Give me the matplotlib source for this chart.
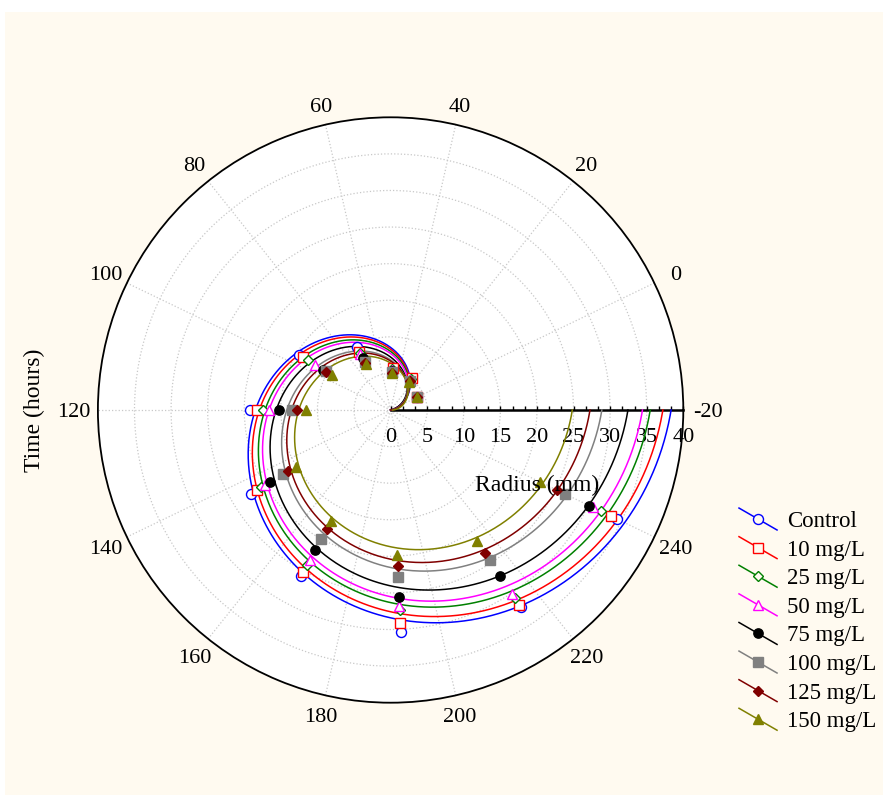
import numpy as np
import matplotlib
matplotlib.use("Agg")
import matplotlib.pyplot as plt
import matplotlib.markers as mmarkers
from matplotlib.lines import Line2D
from matplotlib.legend_handler import HandlerBase
from matplotlib.patches import Rectangle
from matplotlib.ticker import FixedLocator

plt.rcParams['font.family'] = ['Liberation Serif', 'DejaVu Serif']

# ---- data: colony radius (mm) at each sampling time (hours) ----
hours = [0, 24, 48, 72, 96, 120, 144, 168, 192, 216, 240]

r_control = [4.0, 4.9, 5.8, 9.8, 14.6, 19.15, 22.3, 25.7, 30.4, 32.3, 34.3]
r_10 = [4.0, 5.3, 5.8, 9.0, 14.0, 18.25, 21.3, 25.2, 29.2, 31.9, 33.4]
r_25 = [4.0, 5.0, 5.6, 8.9, 13.2, 17.5, 20.6, 24.0, 27.3, 30.8, 31.9]
r_50 = [4.0, 4.9, 5.5, 8.7, 12.1, 16.6, 20.0, 23.3, 26.8, 30.2, 30.7]
r_75 = [4.0, 4.8, 5.4, 8.0, 10.7, 15.2, 19.2, 21.8, 25.6, 27.2, 30.1]
r_100 = [4.0, 4.7, 5.2, 7.4, 10.3, 13.45, 17.1, 20.0, 22.8, 24.6, 26.5]
r_125 = [4.0, 4.7, 5.1, 7.3, 10.25, 12.8, 16.3, 18.4, 21.4, 23.4, 25.3]
r_150 = [4.0, 4.6, 5.0, 7.1, 9.4, 11.6, 15.1, 17.3, 19.9, 21.4, 22.7]

series_labels = ['Control', '10 mg/L', '25 mg/L', '50 mg/L',
                 '75 mg/L', '100 mg/L', '125 mg/L', '150 mg/L']
series_values = [r_control, r_10, r_25, r_50, r_75, r_100, r_125, r_150]

time_ticks = list(range(-20, 260, 20))
radius_ticks = [0, 5, 10, 15, 20, 25, 30, 35, 40]

# ---- styles ----
colors = ['#0000FF', '#FF0000', '#008000', '#FF00FF',
          '#000000', '#808080', '#800000', '#808000']
markers = ['o', 's', 'D', '^', 'o', 's', 'D', '^']
msizes = [7.2, 6.7, 5.4, 7.2, 6.7, 6.5, 5.4, 7.2]
filled = [False, False, False, False, True, True, True, True]

T_START, T_END = -20, 260
R_MAX = 40
BG = '#FFFAF0'
PX = 72.0 / 100  # points per pixel at 100 dpi


def to_theta(t):
    return np.deg2rad((np.asarray(t, dtype=float) - T_START) * 360.0 / (T_END - T_START))


W, H = 883, 795
fig = plt.figure(figsize=(W / 100, H / 100), dpi=100)
fig.patch.set_facecolor('white')
fig.add_artist(Rectangle((5 / W, 0), 1, 1 - 12 / H, transform=fig.transFigure,
                         facecolor=BG, edgecolor='none', zorder=-10))

cx, cy, rad = 390.6, 410.0, 292.7
ax = fig.add_axes([(cx - rad) / W, (H - cy - rad) / H, 2 * rad / W, 2 * rad / H],
                  projection='polar')
ax.set_facecolor('white')
ax.set_theta_zero_location('E')
ax.set_theta_direction(1)
ax.set_ylim(0, R_MAX)

# angular ticks, grid and labels
theta_major = to_theta(time_ticks)
ax.set_xticks(theta_major)
ax.xaxis.set_ticklabels([])
ax.xaxis.set_minor_locator(FixedLocator(to_theta(np.arange(T_START, T_END, 4))))
ax.set_yticks(radius_ticks[1:-1])
ax.set_yticklabels([])
ax.grid(True, which='major', color='#c8c8c8', linestyle=':', linewidth=0.9)
ax.tick_params(axis='x', which='major', direction='in', length=5, width=1.0)
ax.tick_params(axis='x', which='minor', direction='in', length=3, width=0.8)
ax.tick_params(axis='y', length=0)
ax.spines['polar'].set_linewidth(1.3)

for th, t in zip(theta_major, time_ticks):
    d = (19.5 + 5.0 * np.cos(th) ** 2) * PX
    ax.annotate(str(t), xy=(th, R_MAX),
                xytext=(d * np.cos(th), d * np.sin(th)), textcoords='offset points',
                ha='center', va='center_baseline', fontsize=16,
                annotation_clip=False)

# radial axis along the zero direction
ax.plot([0, 0], [0, R_MAX], color='black', lw=1.8, zorder=2, clip_on=False)
ax.plot(np.zeros(25), np.linspace(0, R_MAX, 25), ls='none', color='black',
        marker=mmarkers.TICKUP, ms=3, mew=1.0, zorder=2, clip_on=False)
for v in radius_ticks:
    ax.annotate(str(v), xy=(0, v), xytext=(0, -13), textcoords='offset points',
                ha='center', va='top', fontsize=16, annotation_clip=False)

# linear growth fits and measured points
handles = []
for vals, lab, col, mk, ms, fill in zip(series_values, series_labels, colors,
                                        markers, msizes, filled):
    slope, icpt = np.polyfit(hours, vals, 1)
    t0 = max(T_START, -icpt / slope)
    tt = np.linspace(t0, T_END, 600)
    ax.plot(to_theta(tt), icpt + slope * tt, color=col, lw=1.1, zorder=3)
    face = col if fill else 'white'
    ax.plot(to_theta(hours), vals, ls='none', marker=mk, ms=ms, mfc=face,
            mec=col, mew=1.0, zorder=4, clip_on=False)
    handles.append(Line2D([], [], color=col, lw=1.1, marker=mk, ms=ms,
                          mfc=col if fill else BG, mec=col, mew=1.0))


class DiagonalHandler(HandlerBase):
    def create_artists(self, legend, orig_handle, xdescent, ydescent, width,
                       height, fontsize, trans):
        x0, x1 = -xdescent, -xdescent + width
        yc = -ydescent + height / 2
        dy = 7.9
        line = Line2D([x0, x1], [yc + dy, yc - dy], color=orig_handle.get_color(),
                      lw=orig_handle.get_linewidth())
        mark = Line2D([(x0 + x1) / 2], [yc], ls='none',
                      marker=orig_handle.get_marker(),
                      ms=orig_handle.get_markersize(),
                      mfc=orig_handle.get_markerfacecolor(),
                      mec=orig_handle.get_markeredgecolor(),
                      mew=orig_handle.get_markeredgewidth())
        line.set_transform(trans)
        mark.set_transform(trans)
        return [line, mark]


fig.legend(handles, series_labels, loc='upper left',
           bbox_to_anchor=(739 / W, 1 - 511 / H), frameon=False, fontsize=16.5,
           handlelength=1.66, handletextpad=0.45, labelspacing=0.33,
           borderpad=0, borderaxespad=0,
           handler_map={Line2D: DiagonalHandler()})

fig.text(537 / W, 1 - 485 / H, 'Radius (mm)', ha='center', va='center', fontsize=17)
fig.text(34 / W, 1 - 410 / H, 'Time (hours)', ha='center', va='center',
         rotation=90, fontsize=17)

fig.savefig('out.png', dpi=100, facecolor=fig.get_facecolor())
